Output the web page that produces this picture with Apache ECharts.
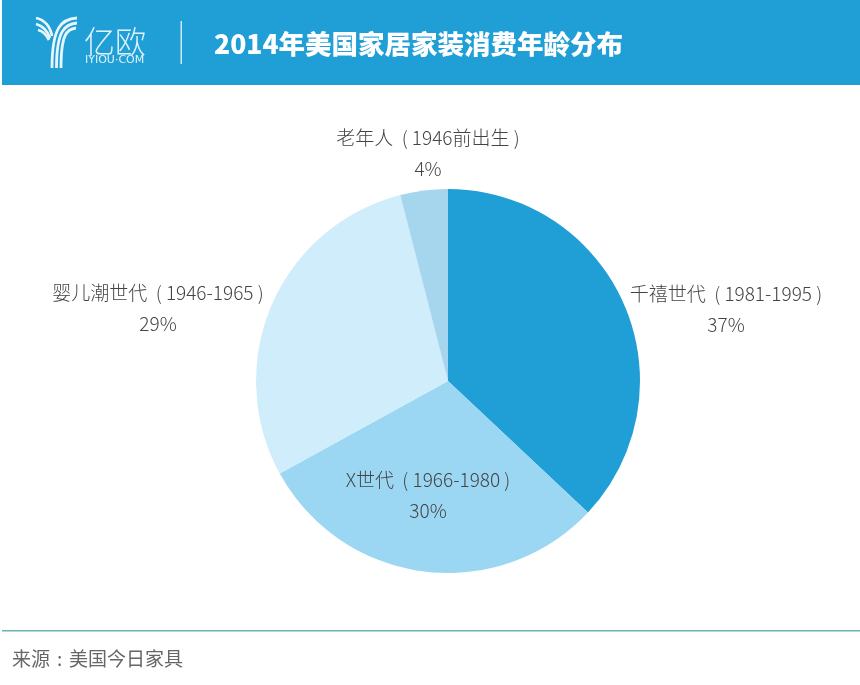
<!DOCTYPE html>
<html>
<head>
<meta charset="utf-8">
<title>2014年美国家居家装消费年龄分布</title>
<style>
html, body { margin: 0; padding: 0; background: #fff; }
#main { width: 860px; height: 685px; }
</style>
<script src="https://cdn.jsdelivr.net/npm/echarts@6/dist/echarts.min.js"></script>
</head>
<body>
<div id="main"></div>
<script>
var cjk = '"Noto Sans CJK SC", "Noto Sans", sans-serif';

// 顺时针，从12点开始
var pieData = [
	{ name : '千禧世代  ( 1981-1995 )', value : 37, color : '#209fd7', x : 726, y : 309 },
	{ name : 'X世代  ( 1966-1980 )', value : 30, color : '#9bd7f3', x : 428, y : 495 },
	{ name : '婴儿潮世代  ( 1946-1965 )', value : 29, color : '#cfedfa', x : 158, y : 308 },
	{ name : '老年人  ( 1946前出生 )', value : 4, color : '#a6d6ed', x : 428, y : 153 }
];

var labelPos = {};
pieData.forEach(function(d) {
	labelPos[d.name] = d;
});

// 亿欧 logo 的弧线: 起点, 两个控制点, 终点
function logoArc(a) {
	return {
		type : 'bezierCurve',
		shape : { x1 : a[0], y1 : a[1], cpx1 : a[2], cpy1 : a[3], cpx2 : a[4], cpy2 : a[5], x2 : a[6], y2 : a[7] },
		style : { fill : null, stroke : '#e6f6fc', lineWidth : 2.8 }
	};
}

var logo = [
	[ 77, 18, 62, 19, 52, 26, 52, 68 ], [ 77, 23, 65, 24, 56.5, 30, 56.5, 68 ],
	[ 76, 28, 67, 29, 61, 34, 61, 68 ], [ 36, 18, 45, 20, 50, 26, 52, 36 ],
	[ 36, 24, 43, 26, 47, 30, 50, 38 ], [ 38, 30, 43, 31, 46, 34, 49, 40 ]
].map(logoArc);

var myChart = echarts.init(document.getElementById('main'), null, { renderer : 'canvas' });
var option = {
	animation : false,
	backgroundColor : '#ffffff',
	graphic : {
		elements : [
			{ type : 'rect', shape : { x : 2, y : 0, width : 858, height : 85 }, style : { fill : '#209fd7' }, z : 0 },
			{ type : 'group', z : 5, children : logo },
			{ type : 'text', z : 5, style : { x : 84, y : 41, text : '亿欧', fill : '#dff3fb', font : '200 31px ' + cjk, textVerticalAlign : 'middle' } },
			{ type : 'text', z : 5, style : { x : 85, y : 60, text : 'IYIOU·COM', fill : '#dff3fb', font : '11px "DejaVu Sans", sans-serif', textVerticalAlign : 'middle' } },
			{ type : 'rect', z : 5, shape : { x : 180.5, y : 21, width : 1.5, height : 43 }, style : { fill : '#cfeaf6' } },
			{ type : 'text', z : 5, style : { x : 214, y : 44, text : '2014年美国家居家装消费年龄分布', fill : '#ffffff', font : '900 26.5px ' + cjk, textVerticalAlign : 'middle' } },
			{ type : 'rect', z : 5, shape : { x : 2, y : 630, width : 858, height : 1.5 }, style : { fill : '#6cb0bb' } },
			{ type : 'text', z : 5, style : { x : 12, y : 659, text : '来源', fill : '#666666', font : '19px ' + cjk, textVerticalAlign : 'middle' } },
			{ type : 'text', z : 5, style : { x : 57, y : 659, text : ':', fill : '#666666', font : '19px ' + cjk, textVerticalAlign : 'middle' } },
			{ type : 'text', z : 5, style : { x : 69, y : 659, text : '美国今日家具', fill : '#666666', font : '19px ' + cjk, textVerticalAlign : 'middle' } }
		]
	},
	series : [ {
		type : 'pie',
		center : [ 448, 381 ],
		radius : [ 0, 192 ],
		startAngle : 90,
		clockwise : true,
		silent : true,
		label : {
			show : true,
			position : 'inside',
			formatter : function(params) {
				return params.name + '\n' + params.value + '%';
			},
			color : '#444444',
			fontFamily : cjk,
			fontWeight : 300,
			fontSize : 19,
			lineHeight : 31,
			align : 'center'
		},
		labelLine : { show : false },
		labelLayout : function(params) {
			var p = labelPos[pieData[params.dataIndex].name];
			return { x : p.x, y : p.y, align : 'center', verticalAlign : 'middle' };
		},
		itemStyle : {
			borderWidth : 0
		},
		data : pieData.map(function(d) {
			return { name : d.name, value : d.value, itemStyle : { color : d.color } };
		})
	} ]
};
myChart.setOption(option);
</script>
</body>
</html>
